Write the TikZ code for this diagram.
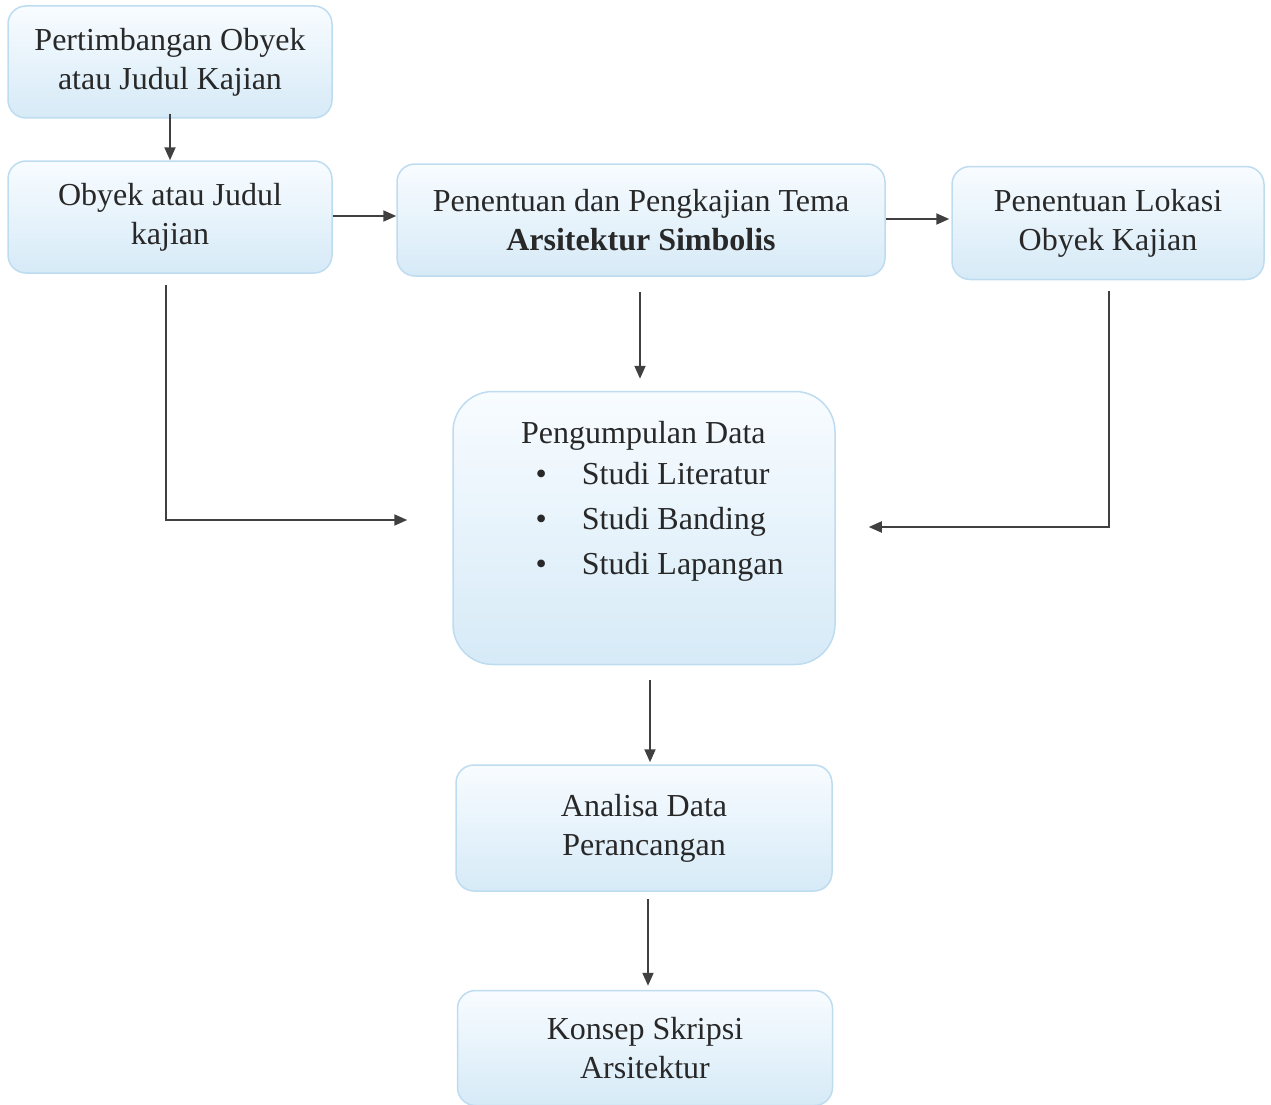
\documentclass[tikz,border=0pt]{standalone}
\usepackage{fontspec}
\setmainfont{Liberation Serif}
\usepackage{xcolor}
\usetikzlibrary{arrows.meta,positioning}

\definecolor{boxtop}{RGB}{248,252,255}
\definecolor{boxbot}{RGB}{214,234,247}
\definecolor{boxedge}{RGB}{190,220,240}
\definecolor{arrowgray}{RGB}{64,64,64}
\definecolor{textgray}{RGB}{40,40,40}

\begin{document}
\begin{tikzpicture}[x=1pt, y=-1pt,
	box/.style={rectangle, rounded corners=18pt, draw=boxedge, line width=1.5pt,
		top color=boxtop, bottom color=boxbot, align=center, inner sep=0pt,
		text=textgray, font=\fontsize{32}{39}\selectfont},
	flow/.style={-{Triangle[length=13pt,width=11pt]}, draw=arrowgray, line width=2pt}]
	\useasboundingbox (0,0) rectangle (1271,1105);
	% top row
	\node[box, minimum width=324pt, minimum height=112pt] (pt) at (170,62) {Pertimbangan Obyek\\atau Judul Kajian};
	\node[box, minimum width=324pt, minimum height=112pt] (oj) at (170,217) {Obyek atau Judul\\kajian};
	\node[box, minimum width=488pt, minimum height=112pt] (tema) at (641,220) {Penentuan dan Pengkajian Tema\\\textbf{Arsitektur Simbolis}};
	\node[box, minimum width=312pt, minimum height=113pt] (lk) at (1108,223) {Penentuan Lokasi\\Obyek Kajian};
	% data
	\node[box, rounded corners=40pt, minimum width=382pt, minimum height=273pt] (pd) at (644,528) {};
	\node[font=\fontsize{32}{39}\selectfont, text=textgray, anchor=north west, inner sep=0pt] (pdtext) at (535.5,416) {%
		\begin{tabular}{@{}c@{\hspace{35pt}}l@{}}
			\multicolumn{2}{@{}l@{}}{\hspace{-14.5pt}Pengumpulan Data}\\[2pt]
			\textbullet & Studi Literatur\\[6pt]
			\textbullet & Studi Banding\\[6pt]
			\textbullet & Studi Lapangan
		\end{tabular}};
	% bottom
	\node[box, minimum width=376pt, minimum height=126pt] (ad) at (644,828) {Analisa Data\\Perancangan};
	\node[box, minimum width=375pt, minimum height=115pt] (ks) at (645,1048) {Konsep Skripsi\\Arsitektur};
	% arrows
	\draw[flow] ([yshift=5pt]pt.south) -- (oj.north);
	\draw[flow] ([yshift=1pt]oj.east) -- ([yshift=1pt]oj.east -| tema.west);
	\draw[flow] ([yshift=1pt]tema.east) -- ([xshift=-2pt,yshift=1pt]tema.east -| lk.west);
	\draw[flow, shorten <=15pt, shorten >=12pt] ([xshift=-1pt]tema.south) -- ([xshift=-4pt]pd.north);
	\draw[flow] ([xshift=-4pt,yshift=-11pt]oj.south) |- ([xshift=-45pt,yshift=8pt]pd.west);
	\draw[flow] ([xshift=1pt,yshift=-11pt]lk.south) |- ([xshift=33pt,yshift=1pt]pd.east);
	\draw[flow] ([xshift=6pt,yshift=-15pt]pd.south) -- ([xshift=6pt,yshift=2pt]ad.north);
	\draw[flow] ([xshift=4pt,yshift=-7pt]ad.south) -- ([xshift=3pt,yshift=4pt]ks.north);
\end{tikzpicture}
\end{document}
